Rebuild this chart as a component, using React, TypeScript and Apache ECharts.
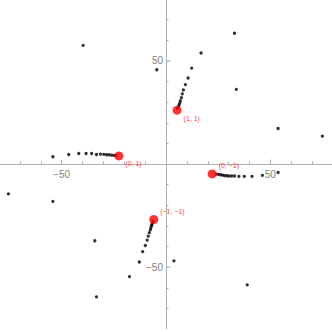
import React, { useEffect, useRef } from "react";
import * as echarts from "echarts";

// Trails converging to each red fixed point
const trail11: number[][] = [
  [16.8, 53.8], [12.3, 46.5], [10.6, 41.7], [9.3, 38.5], [8.3, 35.9], [7.8, 34.0],
  [7.4, 32.2], [6.9, 30.7], [6.6, 29.6], [6.3, 28.6], [5.9, 27.8], [5.6, 27.0],
];
const trail01: number[][] = [
  [-54.2, 3.5], [-46.6, 4.6], [-41.8, 5.1], [-38.3, 5.1], [-35.6, 5.1], [-33.3, 4.6],
  [-31.4, 4.8], [-29.8, 4.7], [-28.5, 4.5], [-27.3, 4.5], [-26.1, 4.3], [-25.0, 4.2], [-24.0, 4.1],
];
const trail0m1: number[][] = [
  [53.7, -4.1], [46.2, -5.5], [41.2, -6.0], [37.5, -6.0], [34.9, -6.0], [32.8, -5.8],
  [31.4, -5.8], [30.1, -5.8], [29.0, -5.7], [28.0, -5.6], [27.1, -5.4], [26.1, -5.2],
  [25.1, -5.0], [24.0, -4.9],
];
const trailm1m1: number[][] = [
  [-17.5, -54.6], [-12.8, -47.5], [-11.2, -42.5], [-9.9, -39.5], [-9.0, -36.9], [-8.5, -35.0],
  [-8.0, -33.3], [-7.5, -31.9], [-7.2, -30.8], [-6.9, -29.8], [-6.6, -29.0], [-6.3, -28.0],
];
// Isolated black points
const scattered: number[][] = [
  [-39.7, 57.5], [-4.4, 45.7], [32.8, 63.4], [33.7, 36.2], [53.7, 17.2], [74.9, 13.5],
  [-75.5, -14.5], [-54.2, -18.1], [-34.1, -37.2], [-33.3, -64.4], [3.8, -47.0], [38.9, -58.6],
];
// Red fixed points and their callouts
const redPoints: number[][] = [[5.3, 26.1], [-22.6, 3.9], [22.1, -4.8], [-5.9, -26.9]];
const redLabels: string[] = ["(1, 1)", "(0, 1)", "(0, \u22121)", "(\u22121, \u22121)"];
const labelBelow: boolean[] = [true, true, false, false];

const xTicks: number[] = [-50, 50];
const yTicks: number[] = [-50, 50];

const AXIS = "#b0b0b0";
const LABEL = "#808080";

const GRID_LEFT = -1;
const GRID_TOP = -1;
const GRID_W = 334;
const GRID_H = 330;

export default function App() {
  const ref = useRef<HTMLDivElement>(null);
  useEffect(() => {
    if (!ref.current) return;
    const chart = echarts.init(ref.current, null, { renderer: "svg" });
    const fmt = (v: number) => (v === 50 ? "50" : v === -50 ? "\u221250" : "");
    const blackSeries = (d: number[][]) => ({
      type: "scatter",
      data: d,
      symbolSize: 3.3,
      itemStyle: { color: "#000" },
      silent: true,
      z: 3,
    });
    chart.setOption({
      animation: false,
      backgroundColor: "#fff",
      grid: {
        left: GRID_LEFT,
        top: GRID_TOP,
        width: GRID_W,
        height: GRID_H,
        containLabel: false,
        outerBoundsMode: "none",
      },
      xAxis: {
        type: "value",
        min: -80,
        max: 80,
        interval: 10,
        position: "bottom",
        offset: -GRID_H / 2,
        splitLine: { show: false },
        axisLine: { onZero: false, lineStyle: { color: AXIS, width: 1 } },
        axisTick: { inside: true, length: 2.5, lineStyle: { color: AXIS } },
        axisLabel: {
          formatter: fmt,
          color: LABEL,
          fontSize: 10,
          fontFamily: "Liberation Sans",
          margin: 5,
          showMinLabel: false,
          showMaxLabel: false,
        },
      },
      yAxis: {
        type: "value",
        min: -80,
        max: 80,
        interval: 10,
        position: "left",
        offset: -GRID_W / 2,
        splitLine: { show: false },
        axisLine: { onZero: false, lineStyle: { color: AXIS, width: 1 } },
        axisTick: { inside: true, length: 2.5, lineStyle: { color: AXIS } },
        axisLabel: {
          formatter: fmt,
          color: LABEL,
          fontSize: 10,
          fontFamily: "Liberation Sans",
          margin: 3,
          showMinLabel: false,
          showMaxLabel: false,
        },
      },
      series: [
        {
          type: "custom",
          silent: true,
          data: xTicks.map((v) => [v, 0]),
          renderItem: (params: any, api: any) => {
            const p = api.coord([api.value(0), 0]);
            return {
              type: "line",
              shape: { x1: p[0], y1: p[1], x2: p[0], y2: p[1] - 4.5 },
              style: { stroke: AXIS, lineWidth: 1 },
            };
          },
          z: 1,
        },
        {
          type: "custom",
          silent: true,
          data: yTicks.map((v) => [0, v]),
          renderItem: (params: any, api: any) => {
            const p = api.coord([0, api.value(1)]);
            return {
              type: "line",
              shape: { x1: p[0], y1: p[1], x2: p[0] + 4.5, y2: p[1] },
              style: { stroke: AXIS, lineWidth: 1 },
            };
          },
          z: 1,
        },
        blackSeries(trail11),
        blackSeries(trail01),
        blackSeries(trail0m1),
        blackSeries(trailm1m1),
        blackSeries(scattered),
        {
          type: "scatter",
          silent: true,
          symbolSize: 9,
          itemStyle: { color: "#ff0000" },
          z: 5,
          data: redPoints.map((p, i) => ({
            value: p,
            label: {
              show: true,
              formatter: redLabels[i],
              position: "right",
              distance: 2,
              offset: [0, labelBelow[i] ? 8 : -8],
              color: "#ff0000",
              fontSize: 7,
              fontFamily: "Liberation Sans",
            },
          })),
        },
      ],
    });
    return () => chart.dispose();
  }, []);
  return (
    <div
      ref={ref}
      style={{ position: "fixed", left: 0, top: 0, width: 332, height: 332 }}
    />
  );
}
